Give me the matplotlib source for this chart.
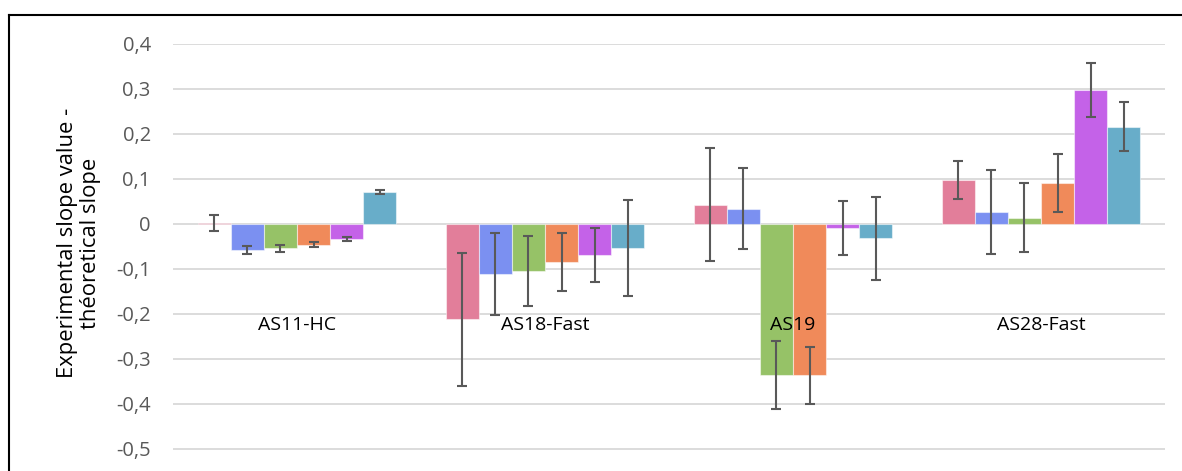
import matplotlib
matplotlib.use("Agg")
import matplotlib.pyplot as plt
import numpy as np
from matplotlib.lines import Line2D

categories = ["AS11-HC", "AS18-Fast", "AS19", "AS28-Fast"]
series_colors = ["#E27E9A", "#7B90F1", "#96C267", "#F08A5A", "#C462E8", "#68ADC9"]

values = [
    [0.002, -0.212, 0.043, 0.098],
    [-0.057, -0.111, 0.034, 0.027],
    [-0.054, -0.105, -0.336, 0.014],
    [-0.046, -0.085, -0.336, 0.091],
    [-0.033, -0.070, -0.010, 0.298],
    [0.071, -0.053, -0.032, 0.216],
]
errors = [
    [0.018, 0.148, 0.126, 0.043],
    [0.009, 0.091, 0.090, 0.094],
    [0.008, 0.078, 0.076, 0.077],
    [0.005, 0.064, 0.063, 0.064],
    [0.004, 0.060, 0.060, 0.060],
    [0.005, 0.107, 0.092, 0.054],
]
yticks = [0.4, 0.3, 0.2, 0.1, 0, -0.1, -0.2, -0.3, -0.4, -0.5]
ytick_labels = ["0,4", "0,3", "0,2", "0,1", "0", "-0,1", "-0,2", "-0,3", "-0,4", "-0,5"]

plt.rcParams['font.family'] = ['Open Sans', 'DejaVu Sans']

W, H = 1182, 471
fig = plt.figure(figsize=(W / 100, H / 100), dpi=100)
left, right, top, bottom = 173, 1165, 44, 471
ax = fig.add_axes([left / W, 1 - bottom / H, (right - left) / W, (bottom - top) / H])

n_series = len(values)
bw = 0.1335
x = np.arange(len(categories))
for i in range(n_series):
    offs = (i - (n_series - 1) / 2) * bw
    ax.bar(x + offs, values[i], width=bw, color=series_colors[i],
           edgecolor=(1, 1, 1, 0.5), linewidth=0.8, zorder=2)
    ax.errorbar(x + offs, values[i], yerr=errors[i], fmt='none',
                ecolor="#595959", elinewidth=1.5, capsize=3.5, capthick=1.5, zorder=3)

ax.set_xlim(-0.5, len(categories) - 0.5)
ax.set_ylim(-0.549, 0.4)
ax.set_yticks(yticks)
ax.set_yticklabels(ytick_labels, fontsize=14.5, color="#595959")
ax.yaxis.grid(True, color="#D9D9D9", linewidth=1.3, zorder=0)
ax.set_axisbelow(True)
ax.set_xticks([])
ax.tick_params(axis='y', length=0, pad=16)
for s in ax.spines.values():
    s.set_visible(False)

for xi, c in zip(x, categories):
    ax.text(xi, -0.225, c, ha='center', va='center', fontsize=14, color="black", zorder=4)

ax.set_ylabel("Experimental slope value -\nthéoretical slope", fontsize=15.8, color="black",
              linespacing=1.1)
ax.yaxis.set_label_coords((101 - left) / (right - left), (bottom - 243) / (bottom - top))

fig.add_artist(Line2D([9.5 / W, 9.5 / W], [0, 1 - 15 / H], transform=fig.transFigure,
                      color="black", linewidth=1.5))
fig.add_artist(Line2D([9.5 / W, 1], [1 - 15 / H, 1 - 15 / H], transform=fig.transFigure,
                      color="black", linewidth=1.5))

fig.savefig("out.png", dpi=100)
